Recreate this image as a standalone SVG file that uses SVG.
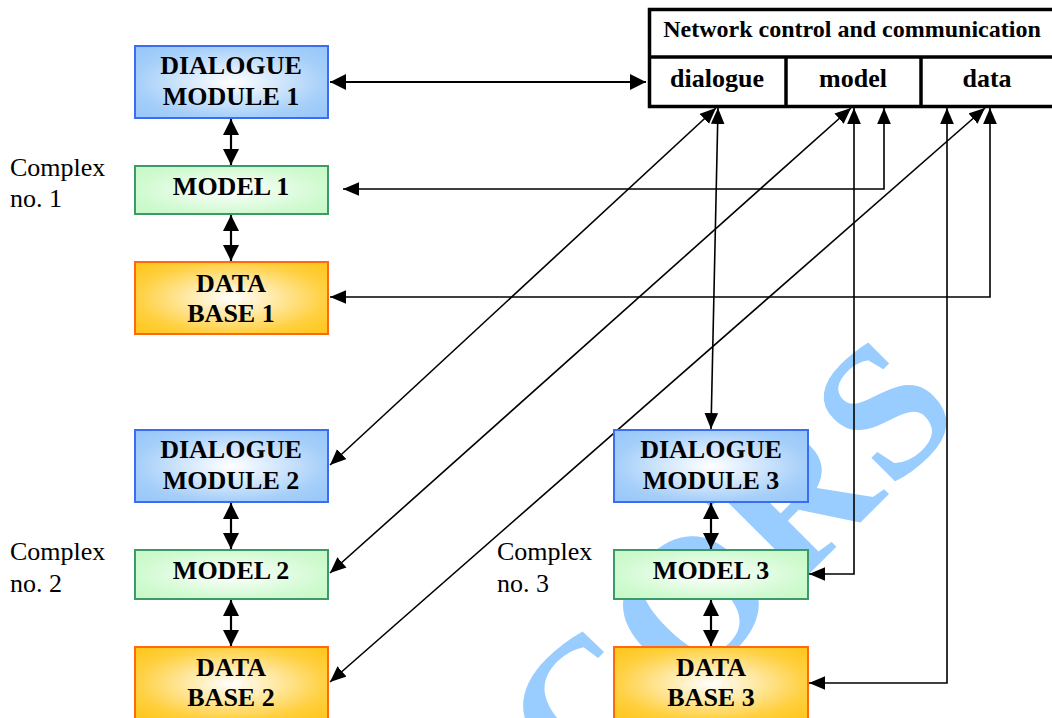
<svg xmlns="http://www.w3.org/2000/svg" width="1052" height="718" viewBox="0 0 1052 718">
<defs>
<radialGradient id="gBlue" cx="50%" cy="50%" r="65%"><stop offset="0" stop-color="#ffffff"/><stop offset="0.75" stop-color="#a6cff9"/><stop offset="1" stop-color="#99c8fa"/></radialGradient>
<radialGradient id="gGreen" cx="50%" cy="50%" r="65%"><stop offset="0" stop-color="#ffffff"/><stop offset="0.75" stop-color="#d0fad0"/><stop offset="1" stop-color="#c8f8c8"/></radialGradient>
<radialGradient id="gOrange" cx="50%" cy="50%" r="65%"><stop offset="0" stop-color="#ffffff"/><stop offset="0.75" stop-color="#ffd040"/><stop offset="1" stop-color="#ffc820"/></radialGradient>
<marker id="ah" markerUnits="userSpaceOnUse" markerWidth="16" markerHeight="14" refX="14" refY="6" orient="auto-start-reverse" viewBox="0 0 14 12"><path d="M0,0 L14,6 L0,12 z" fill="#000"/></marker>
<marker id="ahB" markerUnits="userSpaceOnUse" markerWidth="16" markerHeight="16" refX="15" refY="7.5" orient="auto-start-reverse" viewBox="0 0 15 15"><path d="M0,0 L15,7.5 L0,15 z" fill="#000"/></marker>
</defs>
<style>
.bt{font-family:"Liberation Serif","Times New Roman",serif;font-weight:bold;font-size:26px;text-anchor:middle;fill:#000}
.rt{font-family:"Liberation Serif","Times New Roman",serif;font-size:26px;fill:#000}
.dlg{fill:url(#gBlue);stroke:#3a6cf5;stroke-width:2}
.mdl{fill:url(#gGreen);stroke:#3a9a6a;stroke-width:2}
.dat{fill:url(#gOrange);stroke:#ff6a10;stroke-width:2}
.thin{fill:none;stroke:#000;stroke-width:1.6;marker-start:url(#ah);marker-end:url(#ah)}
.thick{fill:none;stroke:#000;stroke-width:2.2;marker-start:url(#ahB);marker-end:url(#ahB)}
.net{fill:#fff;stroke:#000;stroke-width:3.5}
.wm{font-family:"Liberation Serif","Times New Roman",serif;font-weight:bold;font-size:190px;letter-spacing:5px;fill:#99ccff}
</style>
<rect width="1052" height="718" fill="#fff"/>
<text class="wm" transform="translate(545,838) rotate(-45)">.CORS</text>

<g id="connectors">
<line class="thick" x1="330" y1="82" x2="646" y2="82"/>
<line class="thick" x1="231" y1="119" x2="231" y2="165"/>
<line class="thick" x1="231" y1="215" x2="231" y2="261"/>
<line class="thick" x1="231" y1="503" x2="231" y2="549"/>
<line class="thick" x1="231" y1="600" x2="231" y2="646"/>
<line class="thick" x1="711" y1="503" x2="711" y2="549"/>
<line class="thick" x1="711" y1="600" x2="711" y2="646"/>
<polyline class="thin" points="343,189 884,189 884,108"/>
<polyline class="thin" points="330,297 990,297 990,108"/>
<line class="thin" x1="330" y1="465" x2="716" y2="108"/>
<line class="thin" x1="718" y1="108" x2="711" y2="429"/>
<line class="thin" x1="330" y1="573" x2="851" y2="108"/>
<polyline class="thin" points="809,574 854,574 854,108"/>
<line class="thin" x1="330" y1="682" x2="985" y2="108"/>
<polyline class="thin" points="809,683 947,683 947,108"/>
</g>

<g id="network">
<rect class="net" x="649.5" y="9.5" width="410" height="97"/>
<line x1="649.5" y1="57" x2="1060" y2="57" stroke="#000" stroke-width="3.5"/>
<line x1="786" y1="57" x2="786" y2="106" stroke="#000" stroke-width="3.5"/>
<line x1="921" y1="57" x2="921" y2="106" stroke="#000" stroke-width="3.5"/>
<text class="bt" x="852" y="37" style="font-size:24px">Network control and communication</text>
<text class="bt" x="717" y="87">dialogue</text>
<text class="bt" x="853" y="87">model</text>
<text class="bt" x="987" y="87">data</text>
</g>

<g id="dialogue1"><rect class="dlg" x="135" y="46" width="193" height="72"/><text class="bt" x="231" y="74">DIALOGUE</text><text class="bt" x="231" y="105">MODULE 1</text></g>
<g id="model1"><rect class="mdl" x="135" y="166" width="193" height="48"/><text class="bt" x="231" y="195">MODEL 1</text></g>
<g id="database1"><rect class="dat" x="135" y="262" width="193" height="72"/><text class="bt" x="231" y="292">DATA</text><text class="bt" x="231" y="322">BASE 1</text></g>
<g id="complex1"><text class="rt" x="10" y="176">Complex</text><text class="rt" x="10" y="207">no. 1</text></g>

<g id="dialogue2"><rect class="dlg" x="135" y="430" width="193" height="72"/><text class="bt" x="231" y="458">DIALOGUE</text><text class="bt" x="231" y="489">MODULE 2</text></g>
<g id="model2"><rect class="mdl" x="135" y="550" width="193" height="49"/><text class="bt" x="231" y="579">MODEL 2</text></g>
<g id="database2"><rect class="dat" x="135" y="647" width="193" height="73"/><text class="bt" x="231" y="676">DATA</text><text class="bt" x="231" y="706">BASE 2</text></g>
<g id="complex2"><text class="rt" x="10" y="560">Complex</text><text class="rt" x="10" y="592">no. 2</text></g>

<g id="dialogue3"><rect class="dlg" x="614" y="430" width="194" height="72"/><text class="bt" x="711" y="458">DIALOGUE</text><text class="bt" x="711" y="489">MODULE 3</text></g>
<g id="model3"><rect class="mdl" x="614" y="550" width="194" height="49"/><text class="bt" x="711" y="579">MODEL 3</text></g>
<g id="database3"><rect class="dat" x="614" y="647" width="194" height="73"/><text class="bt" x="711" y="676">DATA</text><text class="bt" x="711" y="706">BASE 3</text></g>
<g id="complex3"><text class="rt" x="497" y="560">Complex</text><text class="rt" x="497" y="592">no. 3</text></g>
</svg>
